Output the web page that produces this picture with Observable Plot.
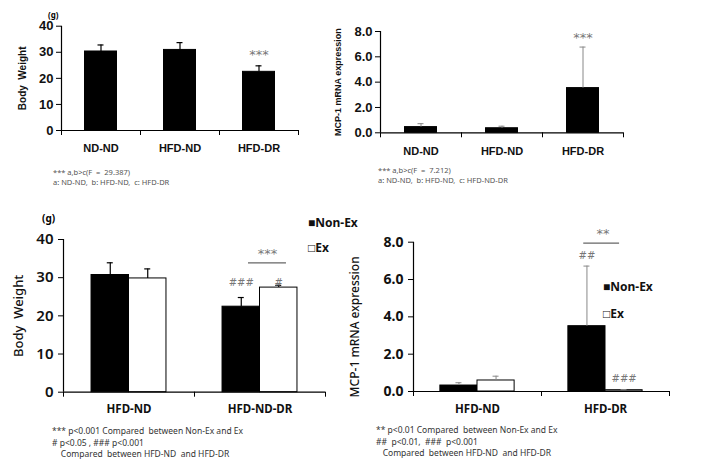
<!DOCTYPE html>
<html><head><meta charset="utf-8">
<script src="https://cdn.jsdelivr.net/npm/d3@7"></script>
<script src="https://cdn.jsdelivr.net/npm/@observablehq/plot@0.6"></script>
<style>
body{margin:0;background:#fff;}
#root{position:relative;width:716px;height:464px;overflow:hidden;background:#fff;}
.panel{position:absolute;}
.txt{position:absolute;white-space:pre;font-family:"Noto Sans",sans-serif;}
</style></head><body><div id="root"></div>
<script>
// ---------- data ----------
const topCats = ["ND-ND", "HFD-ND", "HFD-DR"];
const bwMean = [30.3, 30.9, 22.5];
const bwErr = [2.5, 2.8, 2.3];
const mcpMean = [0.45, 0.36, 3.53];
const mcpErr = [0.27, 0.16, 3.24];

const groups = ["Non-Ex", "Ex"];
const bwCats2 = ["HFD-ND", "HFD-ND-DR"];
const bwNonEx = [30.7, 22.4];
const bwNonExErr = [3.2, 2.4];
const bwEx = [29.8, 27.4];
const bwExErr = [2.5, 0.6];
const mcpCats2 = ["HFD-ND", "HFD-DR"];
const mcpNonEx = [0.32, 3.5];
const mcpNonExErr = [0.15, 3.22];
const mcpEx = [0.59, 0.07];
const mcpExErr = [0.23, 0.03];

const bwTicks = [0, 10, 20, 30, 40];
const mcpTicks = [0, 2, 4, 6, 8];

const notes1 = ["*** a,b>c(F  =  29.387)", "a: ND-ND,  b: HFD-ND,  c: HFD-DR"];
const notes2 = ["*** a,b>c(F  =  7.212)", "a: ND-ND,  b: HFD-ND,  c: HFD-ND-DR"];
const notes3 = ["*** p<0.001 Compared  between Non-Ex and Ex", "# p<0.05 , ### p<0.001", "    Compared  between HFD-ND  and HFD-DR"];
const notes4 = ["** p<0.01 Compared  between Non-Ex and Ex", "##  p<0.01,  ###  p<0.001", "   Compared  between HFD-ND  and HFD-DR"];

// ---------- helpers ----------
const root = document.getElementById("root");

function panel(cfg) {
  const n = cfg.cats.length;
  const ns = cfg.series.length;
  const pxPerUnit = (cfg.width - cfg.ml - cfg.mr) / n;
  const cap = cfg.capPx / pxPerUnit;
  const rows = [];
  cfg.series.forEach((s, k) => {
    s.values.forEach((v, i) => {
      const left = i + 0.5 - ns * cfg.bw / 2 + k * cfg.bw;
      rows.push({cat: cfg.cats[i], i, k, value: v, err: s.errs[i], x1: left, x2: left + cfg.bw, xc: left + cfg.bw / 2, fill: s.fill});
    });
  });
  const annoRows = (cfg.anno || []).map(a => {
    const r = a.series != null ? rows.find(d => d.i === a.cat && d.k === a.series) : null;
    return {...a, xc: r ? r.xc : a.x};
  });
  const marks = [
    Plot.rectY(rows, {x1: "x1", x2: "x2", y1: 0, y2: "value", fill: "fill", stroke: "black", strokeWidth: 1}),
    Plot.ruleX(rows, {x: "xc", y1: "value", y2: d => d.value + d.err, stroke: cfg.errColor, strokeWidth: cfg.errWidth}),
    Plot.ruleY(rows, {y: d => d.value + d.err, x1: d => d.xc - cap, x2: d => d.xc + cap, stroke: cfg.errColor, strokeWidth: cfg.errWidth}),
    Plot.ruleX([0], {stroke: "black", strokeWidth: 1.2}),
    Plot.ruleY([0], {stroke: "black", strokeWidth: 1.2}),
    Plot.axisY({ticks: cfg.yTicks, tickFormat: cfg.yFmt, tickSize: 5, tickPadding: cfg.tickPad, label: null,
      fontSize: cfg.tickFont, fontWeight: cfg.tickWeight, fontFamily: cfg.tickFamily, fill: "#111"}),
    Plot.axisX({ticks: d3.range(n + 1), tickFormat: () => "", tickSize: 5, label: null}),
    Plot.axisX({ticks: cfg.cats.map((d, i) => i + 0.5), tickFormat: v => cfg.cats[Math.round(v - 0.5)], tickSize: 0,
      tickPadding: cfg.catPad, label: null, fontSize: cfg.catFont, fontWeight: "bold", fontFamily: cfg.catFamily, fill: "#111"}),
    Plot.text([cfg.yLabel], {frameAnchor: "left", rotate: -90, textAnchor: "middle", dx: cfg.yLabelDx, dy: cfg.yLabelDy || 0, text: d => d,
      fontSize: cfg.yLabelFont, fontWeight: cfg.yLabelWeight, fontFamily: cfg.yLabelFamily, fill: "#111"}),
    Plot.text(annoRows, {x: "xc", y: "y", text: "text", fill: "#777", fontSize: d => d.size, fontFamily: "DejaVu Sans"}),
    Plot.ruleY(cfg.sig || [], {y: "y", x1: "x1", x2: "x2", stroke: "#666", strokeWidth: 1.2})
  ];
  const svg = Plot.plot({
    width: cfg.width, height: cfg.height,
    marginLeft: cfg.ml, marginRight: cfg.mr, marginTop: cfg.mt, marginBottom: cfg.mb,
    x: {type: "linear", domain: [0, n], axis: null},
    y: {domain: [0, cfg.yTicks[cfg.yTicks.length - 1]], axis: null},
    color: {type: "identity"},
    style: {background: "transparent", overflow: "visible"},
    marks
  });
  svg.classList.add("panel");
  svg.style.left = cfg.left + "px";
  svg.style.top = cfg.top + "px";
  root.appendChild(svg);
}

function text(str, left, top, css) {
  const d = document.createElement("div");
  d.className = "txt";
  d.textContent = str;
  d.style.left = left + "px";
  d.style.top = top + "px";
  Object.assign(d.style, css || {});
  root.appendChild(d);
}

// ---------- panel 1 ----------
panel({
  left: 0, top: 0, width: 310, height: 195, ml: 61, mr: 12, mt: 25.7, mb: 65,
  cats: topCats,
  series: [{values: bwMean, errs: bwErr, fill: "black"}],
  bw: 0.405, capPx: 3, errColor: "black", errWidth: 1.2,
  yTicks: bwTicks, yFmt: d => String(d), tickPad: 3, tickFont: 13, tickWeight: "bold", tickFamily: "Liberation Sans",
  catPad: 14, catFont: 11, catFamily: "Liberation Sans",
  yLabel: "Body  Weight", yLabelDx: -39, yLabelFont: 10, yLabelWeight: "bold", yLabelFamily: "Liberation Sans",
  anno: [{cat: 2, series: 0, y: 29.1, text: "***", size: 13}]
});
// ---------- panel 2 ----------
panel({
  left: 310, top: 0, width: 320, height: 195, ml: 70, mr: 7, mt: 31, mb: 62.7,
  cats: topCats,
  series: [{values: mcpMean, errs: mcpErr, fill: "black"}],
  bw: 0.395, capPx: 3, errColor: "#888", errWidth: 1,
  yTicks: mcpTicks, yFmt: d3.format(".1f"), tickPad: 3, tickFont: 13, tickWeight: "bold", tickFamily: "Liberation Sans",
  catPad: 14, catFont: 11, catFamily: "Liberation Sans",
  yLabel: "MCP-1 mRNA expression", yLabelDx: -42, yLabelFont: 9, yLabelWeight: "bold", yLabelFamily: "Liberation Sans",
  anno: [{cat: 2, series: 0, y: 7.5, text: "***", size: 13}]
});
// ---------- panel 3 ----------
panel({
  left: 0, top: 200, width: 340, height: 230, ml: 63, mr: 15, mt: 39, mb: 38.3,
  cats: bwCats2,
  series: [{values: bwNonEx, errs: bwNonExErr, fill: "black"}, {values: bwEx, errs: bwExErr, fill: "white"}],
  bw: 0.286, capPx: 3, errColor: "black", errWidth: 1.2,
  yTicks: bwTicks, yFmt: d => String(d), tickPad: 5, tickFont: 15, tickWeight: "600", tickFamily: "Noto Sans",
  catPad: 13, catFont: 11.5, catFamily: "Noto Sans",
  yLabel: "Body  Weight", yLabelDx: -45, yLabelFont: 13, yLabelWeight: "500", yLabelFamily: "Noto Sans",
  anno: [
    {cat: 1, series: 0, y: 28.7, text: "###", size: 10},
    {cat: 1, series: 1, y: 28.7, text: "#", size: 10},
    {x: 1.557, y: 36.3, text: "***", size: 13}
  ],
  sig: [{y: 33.9, x1: 1.412, x2: 1.702}]
});
// ---------- panel 4 ----------
panel({
  left: 340, top: 200, width: 340, height: 230, ml: 73, mr: 11, mt: 41.7, mb: 39,
  cats: mcpCats2,
  series: [{values: mcpNonEx, errs: mcpNonExErr, fill: "black"}, {values: mcpEx, errs: mcpExErr, fill: "white"}],
  bw: 0.29, capPx: 3, errColor: "#888", errWidth: 1,
  yTicks: mcpTicks, yFmt: d3.format(".1f"), tickPad: 5, tickFont: 14, tickWeight: "bold", tickFamily: "Noto Sans",
  catPad: 13, catFont: 11.5, catFamily: "Noto Sans",
  yLabel: "MCP-1 mRNA expression", yLabelDx: -58, yLabelDy: 10, yLabelFont: 12, yLabelWeight: "500", yLabelFamily: "Noto Sans",
  anno: [
    {cat: 1, series: 0, y: 7.25, text: "##", size: 10},
    {cat: 1, series: 1, y: 0.7, text: "###", size: 10},
    {x: 1.48, y: 8.47, text: "**", size: 13}
  ],
  sig: [{y: 7.95, x1: 1.33, x2: 1.61}]
});

// ---------- texts ----------
text("(g)", 48, 9, {fontSize: "8px", fontWeight: "bold"});
text("(g)", 42, 211, {fontSize: "10px", fontWeight: "bold"});
const small = {fontSize: "7.5px", color: "#555", lineHeight: "10px"};
text(notes1.join("\n"), 53, 167, small);
text(notes2.join("\n"), 378, 165, small);
const mid = {fontSize: "8.5px", color: "#333", lineHeight: "11.5px"};
text(notes3.join("\n"), 52, 425, mid);
text(notes4.join("\n"), 376, 424, mid);
const leg = {fontSize: "12px", fontWeight: "bold", color: "#111"};
text("\u25A0" + groups[0], 308, 214, leg);
text("\u25A1" + groups[1], 308, 239, leg);
text("\u25A0" + groups[0], 603, 278, leg);
text("\u25A1" + groups[1], 603, 305, leg);
</script></body></html>
